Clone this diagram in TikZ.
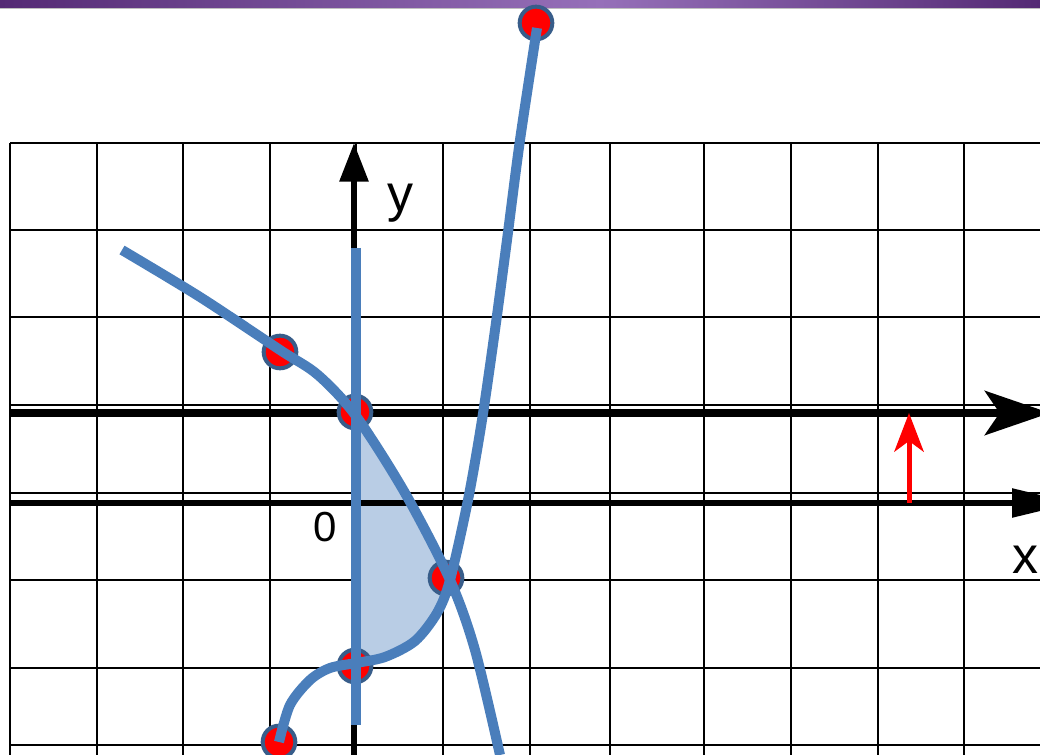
\documentclass[tikz,border=0pt]{standalone}
\usepackage{fontspec}
\setmainfont{Liberation Sans}
\usetikzlibrary{arrows.meta}
\definecolor{curveblue}{RGB}{74,126,187}
\definecolor{dotedge}{RGB}{56,93,138}
\definecolor{areafill}{RGB}{185,205,229}
\definecolor{bardark}{RGB}{84,42,116}
\definecolor{barlight}{RGB}{150,112,185}
\begin{document}
\begin{tikzpicture}[x=0.75pt,y=-0.75pt,
  gridline/.style={black,line width=1.5pt},
  curve/.style={curveblue,line width=7.5pt},
  dotmark/.style={circle,fill=red,draw=dotedge,line width=3pt,minimum size=24.5pt,inner sep=0pt},
  biglbl/.style={inner sep=0pt,font=\fontsize{39}{39}\selectfont},
  zerolbl/.style={inner sep=0pt,font=\fontsize{31.5}{31.5}\selectfont}]
\useasboundingbox (0,0) rectangle (1040,755);
\clip (0,0) rectangle (1040,755);
% top bar
\shade[left color=bardark,right color=barlight] (0,0) rectangle (600,8);
\shade[left color=barlight,right color=bardark] (600,0) rectangle (1040,8);
\fill[black!25] (0,8) rectangle (1040,9.5);
% grid
\foreach \x in {10,97,183,270,356,443,530,610,704,791,878,964}
  \draw[gridline] (\x,143) -- (\x,755);
\foreach \y in {143,230,317,405,493,580,668,745}
  \draw[gridline] (10,\y) -- (1040,\y);
% shaded area
\fill[areafill] (356,414) -- (356,663)
  -- plot[smooth] coordinates {(356,663) (385,657) (415,641) (437,613) (450,580)}
  -- plot[smooth] coordinates {(450,580) (405,493) (356,416)} -- cycle;
% axes
\coordinate (xas) at (10,413);
\coordinate (xae) at (1050,413);
\coordinate (xbs) at (10,503);
\coordinate (xbe) at (1074,503);
\coordinate (yas) at (354,755);
\coordinate (yae) at (354,143);
\draw[line width=6pt,-{Stealth[length=48.75pt,width=33pt,inset=11pt]}] (xas) -- (xae);
\draw[line width=4.2pt,-{Triangle[length=46.5pt,width=21pt]}] (xbs) -- (xbe);
\draw[line width=4.5pt,-{Triangle[length=29pt,width=21pt]}] (yas) -- (yae);
% red arrow
\coordinate (ras) at (909,503);
\coordinate (rae) at (909,413);
\draw[red,line width=3.75pt,-{Stealth[length=29pt,width=22pt,inset=8pt]}] (ras) -- (rae);
% labels
\node[biglbl] (ylbl) at (400,203) {y};
\node[zerolbl] (zlbl) at (325.5,527) {0};
\node[biglbl,anchor=east] (xlbl) at (1039,560) {x};
% dots
\node[dotmark] (d1) at (280,352) {};
\node[dotmark] (d2) at (355,412) {};
\node[dotmark] (d3) at (446,578) {};
\node[dotmark] (d4) at (355,666) {};
\node[dotmark] (d5) at (279,742) {};
\node[dotmark] (d6) at (536,23) {};
% blue vertical line
\coordinate (vbs) at (356,248);
\coordinate (vbe) at (356,725);
\draw[curve] (vbs) -- (vbe);
% curves
\draw[curve] plot[smooth] coordinates {(122,250) (200,297) (280,350) (318,375) (356,416) (405,493) (450,580) (475,650) (500,755)};
\draw[curve] plot[smooth] coordinates {(279,742) (290,705) (310,680) (330,668) (356,663) (385,657) (415,641) (437,613) (450,580) (468,500) (482,420) (495,330) (507,240) (520,140) (537,28)};
\end{tikzpicture}
\end{document}
